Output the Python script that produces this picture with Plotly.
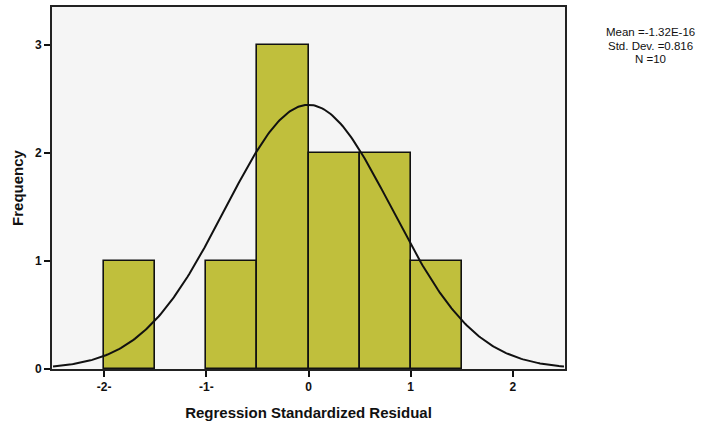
import numpy as np
import plotly.graph_objects as go

bin_centers = [-1.75, -1.25, -0.75, -0.25, 0.25, 0.75, 1.25]
counts = [1, 0, 1, 3, 2, 2, 1]
bin_width = 0.5
mean_val = -1.32e-16
std_val = 0.816
n_val = 10
x_tickvals = [-2, -1, 0, 1, 2]
x_ticktext = ["-2-", "-1-", "0", "1", "2"]
y_tickvals = [0, 1, 2, 3]
stats_lines = ["Mean =-1.32E-16", "Std. Dev. =0.816", "N =10"]

# fitted normal curve from the stated statistics
xs = np.linspace(-2.5, 2.5, 301)
ys = n_val * bin_width / (std_val * np.sqrt(2 * np.pi)) * np.exp(-0.5 * ((xs - mean_val) / std_val) ** 2)

bar_x = [c for c, k in zip(bin_centers, counts) if k > 0]
bar_y = [k for k in counts if k > 0]

fig = go.Figure()
fig.add_trace(go.Bar(
    x=bar_x, y=bar_y, width=bin_width,
    marker=dict(color="#c0bf3c", line=dict(color="#111111", width=1.6)),
    showlegend=False, hoverinfo="skip",
))
fig.add_trace(go.Scatter(
    x=xs, y=ys, mode="lines", line=dict(color="#111111", width=2),
    showlegend=False, hoverinfo="skip",
))

annotations = []
for i, line in enumerate(stats_lines):
    annotations.append(dict(
        xref="paper", yref="paper", x=1.1657, y=0.9296 - i * 0.0373,
        xanchor="center", yanchor="middle", showarrow=False,
        text=line, font=dict(size=11.5, color="#111111"),
    ))

fig.update_layout(
    width=710, height=432,
    margin=dict(l=52, r=145, t=7, b=63, autoexpand=False),
    paper_bgcolor="white", plot_bgcolor="#f5f5f5",
    bargap=0,
    font=dict(family="Liberation Sans, Arial, sans-serif", color="#111111"),
    xaxis=dict(
        range=[-2.51, 2.51], tickvals=x_tickvals, ticktext=x_ticktext,
        ticks="outside", ticklen=6, tickwidth=2, tickcolor="#111111",
        showgrid=False, zeroline=False, showline=True, linecolor="#222222", linewidth=2,
        mirror=True, automargin=False,
        tickfont=dict(size=12, weight="bold"),
        title=dict(text="<b>Regression Standardized Residual</b>", font=dict(size=15), standoff=14),
    ),
    yaxis=dict(
        range=[0, 3.35], tickvals=y_tickvals,
        ticks="outside", ticklen=6, tickwidth=2, tickcolor="#111111",
        showgrid=False, zeroline=False, showline=True, linecolor="#222222", linewidth=2,
        mirror=True, automargin=False,
        tickfont=dict(size=12, weight="bold"),
        title=dict(text="<b>Frequency</b>", font=dict(size=15), standoff=8),
    ),
    annotations=annotations,
)

fig.write_html("out.html", config={"displayModeBar": False})

# remove the browser's default page margin so the figure sits at the window origin
with open("out.html", encoding="utf-8") as f:
    html = f.read()
html = html.replace("<body>", '<body style="margin:0">', 1)
with open("out.html", "w", encoding="utf-8") as f:
    f.write(html)
